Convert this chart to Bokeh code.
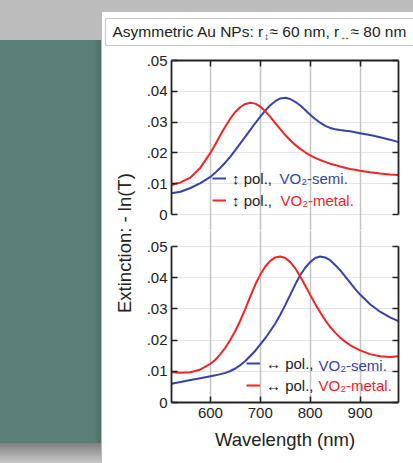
import math
from bokeh.plotting import figure
from bokeh.layouts import row, column
from bokeh.models import (Range1d, LinearAxis, FixedTicker, Label, BoxAnnotation,
                          Legend, LegendItem, Grid, Div)
from bokeh.embed import file_html
from bokeh.resources import INLINE

# ---- data -------------------------------------------------------------
wavelength = [522, 540, 560, 580,
              600, 610, 620, 630, 640, 650, 660, 670, 680, 690,
              700, 710, 720, 730, 740, 750, 760, 770, 780, 790,
              800, 810, 820, 830, 840, 850, 860, 870, 880, 890,
              900, 920, 940, 960, 977]

# vertical (↕) polarization, upper panel
vert_semi = [0.0069, 0.0074, 0.0086, 0.0102,
             0.0122, 0.0136, 0.0152, 0.0169, 0.0188, 0.0209, 0.0231, 0.0253, 0.0275, 0.0297,
             0.0318, 0.0337, 0.0355, 0.0368, 0.0377, 0.0379, 0.0375, 0.0366, 0.0354, 0.0339,
             0.0324, 0.0310, 0.0298, 0.0288, 0.0281, 0.0277, 0.0274, 0.0272, 0.0270, 0.0267,
             0.0264, 0.0258, 0.0251, 0.0243, 0.0235]
vert_metal = [0.0096, 0.0104, 0.0120, 0.0152,
              0.0200, 0.0228, 0.0258, 0.0286, 0.0312, 0.0333, 0.0349, 0.0359, 0.0363, 0.0360,
              0.0350, 0.0335, 0.0317, 0.0297, 0.0277, 0.0258, 0.0241, 0.0226, 0.0213, 0.0202,
              0.0192, 0.0184, 0.0177, 0.0171, 0.0165, 0.0161, 0.0156, 0.0152, 0.0148, 0.0145,
              0.0142, 0.0137, 0.0133, 0.0130, 0.0128]

# horizontal (↔) polarization, lower panel
horiz_semi = [0.0060, 0.0066, 0.0072, 0.0078,
              0.0084, 0.0087, 0.0091, 0.0095, 0.0101, 0.0109, 0.0120, 0.0133, 0.0149, 0.0166,
              0.0186, 0.0206, 0.0229, 0.0253, 0.0281, 0.0312, 0.0345, 0.0378, 0.0408, 0.0432,
              0.0450, 0.0463, 0.0468, 0.0465, 0.0456, 0.0441, 0.0424, 0.0404, 0.0384, 0.0364,
              0.0346, 0.0315, 0.0291, 0.0273, 0.0261]
horiz_metal = [0.0097, 0.0095, 0.0097, 0.0106,
               0.0124, 0.0137, 0.0155, 0.0176, 0.0201, 0.0230, 0.0263, 0.0300, 0.0340, 0.0378,
               0.0410, 0.0436, 0.0454, 0.0465, 0.0468, 0.0463, 0.0450, 0.0430, 0.0404, 0.0375,
               0.0345, 0.0316, 0.0289, 0.0264, 0.0242, 0.0224, 0.0208, 0.0195, 0.0184, 0.0175,
               0.0167, 0.0155, 0.0148, 0.0146, 0.0148]

x_ticks = [600, 700, 800, 900]
y_ticks = [0.0, 0.01, 0.02, 0.03, 0.04, 0.05]
y_tick_labels = ["0", ".01", ".02", ".03", ".04", ".05"]

# ---- style ------------------------------------------------------------
FONT = "Liberation Sans"
BLUE = "#3442ae"
RED = "#f22525"
INK = "#222222"
GRID = "#c4c4c4"
TEAL = "#5a7e78"
SLIDE = "#bcbcbc"
WHITE = {"background-color": "white"}

# page geometry (pixels)
PANEL_X, PANEL_Y = 102, 12          # white card
HEAD_H = 36                         # title strip height
FL, FR = 171, 398                   # plot frame left / right
UP_TOP, SPLIT, LO_BOT = 60, 230, 402
XR = (522, 977)


def style_axis(ax, labels=True):
    ax.axis_line_color = INK
    ax.axis_line_width = 1.8
    ax.major_tick_line_color = INK
    ax.major_tick_line_width = 1.5
    ax.major_tick_in = 6
    ax.major_tick_out = 0
    ax.minor_tick_line_color = None
    ax.major_label_text_font = FONT
    ax.major_label_text_font_size = "15px"
    ax.major_label_text_color = INK
    ax.axis_label_text_font = FONT
    ax.axis_label_text_font_style = "normal"
    ax.axis_label_text_font_size = "18.5px"
    ax.axis_label_text_color = INK
    if not labels:
        ax.major_label_standoff = 0


def blank_fig(w, h):
    f = figure(width=w, height=h, output_backend="svg", toolbar_location=None,
               x_range=Range1d(0, 1), y_range=Range1d(0, 1),
               x_axis_location=None, y_axis_location=None,
               min_border_left=0, min_border_right=0,
               min_border_top=0, min_border_bottom=0, styles=WHITE)
    f.outline_line_color = None
    f.border_fill_color = "white"
    f.background_fill_color = "white"
    f.grid.visible = False
    f.title.visible = False
    return f


def panel_fig(h, top_border, bottom_border, y_range):
    f = figure(width=413 - 140, height=h, output_backend="svg", toolbar_location=None,
               x_range=Range1d(*XR), y_range=y_range,
               x_axis_location=None, y_axis_location=None,
               min_border_left=FL - 140, min_border_right=413 - FR,
               min_border_top=top_border, min_border_bottom=bottom_border,
               styles=WHITE)
    f.outline_line_color = None
    f.border_fill_color = "white"
    f.background_fill_color = "white"
    f.title.visible = False
    f.add_layout(Grid(dimension=0, ticker=FixedTicker(ticks=x_ticks),
                      grid_line_color=GRID, grid_line_width=1.5))
    lab = {v: s for v, s in zip(y_ticks, y_tick_labels)}
    ax_l = LinearAxis(ticker=FixedTicker(ticks=y_ticks), bounds=(0, 0.05),
                      major_label_overrides=lab)
    style_axis(ax_l)
    ax_l.major_label_standoff = 4
    f.add_layout(ax_l, "left")
    ax_r = LinearAxis(ticker=FixedTicker(ticks=y_ticks), bounds=(0, 0.05),
                      major_label_overrides={v: "" for v in y_ticks})
    style_axis(ax_r, labels=False)
    f.add_layout(ax_r, "right")
    return f


def legend(f, items, left, bottom):
    lg = Legend(items=items, border_line_color=None, background_fill_alpha=0,
                label_text_font=FONT, label_text_font_size="15px",
                label_text_color=INK, glyph_width=14, glyph_height=18,
                label_height=18, spacing=4, padding=0, margin=0,
                label_standoff=6, location=(left, bottom))
    f.add_layout(lg)


def text(f, x, y, s, color=INK, size="15px", angle=0.0, align="left"):
    f.add_layout(Label(x=x, y=y, x_units="screen", y_units="screen",
                       text=s, text_color=color, text_font=FONT,
                       text_font_size=size, text_align=align, angle=angle,
                       text_baseline="middle"))


# ---- upper panel: ↕ polarization -----------------------------------------
up_h = SPLIT - (PANEL_Y + HEAD_H)
up_bottom_val = -0.05 * (SPLIT - 214) / 154.0
top = panel_fig(up_h, UP_TOP - (PANEL_Y + HEAD_H), 0, Range1d(up_bottom_val, 0.05))
ax_t = LinearAxis(ticker=FixedTicker(ticks=x_ticks),
                  major_label_overrides={v: "" for v in x_ticks})
style_axis(ax_t, labels=False)
top.add_layout(ax_t, "above")
r_vs = top.line(wavelength, vert_semi, color=BLUE, line_width=2)
r_vm = top.line(wavelength, vert_metal, color=RED, line_width=2)
legend(top, [LegendItem(label="↕ pol.,", renderers=[r_vs]),
             LegendItem(label="↕ pol.,", renderers=[r_vm])],
       212 - FL, SPLIT - 209)
text(top, 279 - FL, SPLIT - 178, "VO₂-semi.", BLUE)
text(top, 280 - FL, SPLIT - 200, "VO₂-metal.", RED)

# ---- lower panel: ↔ polarization -----------------------------------------
lo_h = 463 - SPLIT
lo_top_val = 0.05 * (LO_BOT - SPLIT) / 156.0
bot = panel_fig(lo_h, 0, 463 - LO_BOT, Range1d(0, lo_top_val))
ax_b = LinearAxis(ticker=FixedTicker(ticks=x_ticks), axis_label="Wavelength (nm)")
style_axis(ax_b)
ax_b.major_label_standoff = 5
ax_b.axis_label_standoff = 8
bot.add_layout(ax_b, "below")
r_hs = bot.line(wavelength, horiz_semi, color=BLUE, line_width=2)
r_hm = bot.line(wavelength, horiz_metal, color=RED, line_width=2)
legend(bot, [LegendItem(label="↔ pol.,", renderers=[r_hs]),
             LegendItem(label="↔ pol.,", renderers=[r_hm])],
       246 - FL, LO_BOT - 394)
text(bot, 318 - FL, LO_BOT - 365, "VO₂-semi.", BLUE)
text(bot, 318 - FL, LO_BOT - 385, "VO₂-metal.", RED)

# ---- shared y label --------------------------------------------------------
ylab = blank_fig(140 - PANEL_X, 463 - (PANEL_Y + HEAD_H))
text(ylab, 124 - PANEL_X, 463 - 240, "Extinction:  - ln(T)", size="18.5px",
     angle=math.pi / 2, align="center")

# ---- title box -------------------------------------------------------------
head = blank_fig(413 - PANEL_X, HEAD_H)
head.add_layout(BoxAnnotation(left=105 - PANEL_X, right=430 - PANEL_X,
                              top=HEAD_H - (18 - PANEL_Y),
                              bottom=HEAD_H - (45 - PANEL_Y),
                              left_units="screen", right_units="screen",
                              top_units="screen", bottom_units="screen",
                              fill_color="white", fill_alpha=1.0,
                              line_color="#555555", line_width=1.2))


def head_text(cx, cy, s, size="15.5px"):
    text(head, cx - PANEL_X, HEAD_H - (cy - PANEL_Y), s, size=size)


head_text(112, 31, "Asymmetric Au NPs: r")
head_text(263.5, 36, "↕", size="10px")
head_text(269, 31, "≈ 60 nm, r")
head_text(339.5, 36, "↔", size="10px")
head_text(350, 31, "≈ 80 nm")

# ---- slide backdrop ------------------------------------------------------------
side = Div(text="", width=101, height=463 - 40, margin=(40, 1, 0, 0),
           styles={"background": f"linear-gradient(to right, {TEAL} 0px, {TEAL} 95px, "
                                  f"#4d6c67 101px)"})
foot = Div(text="", width=101, height=20, margin=0,
           styles={"background": "linear-gradient(to bottom, #7f7f7f, #c8c8c8)"})
side_col = column(Div(text="", width=101, height=40, margin=0), 
                  Div(text="", width=101, height=403, margin=0,
                      styles={"background": f"linear-gradient(to right, {TEAL} 0px, "
                                            f"{TEAL} 94px, #4e6f69 101px)"}),
                  foot, spacing=0, margin=(0, 1, 0, 0))

plots = column(top, bot, spacing=0, margin=0, styles=WHITE)
body = row(ylab, plots, spacing=0, margin=0, styles=WHITE)
card = column(head, body, spacing=0, margin=(PANEL_Y, 0, 0, 0), styles=WHITE)
page = row(side_col, card, spacing=0, margin=0, styles={"background-color": SLIDE})

open("out.html", "w").write(file_html(page, INLINE))
